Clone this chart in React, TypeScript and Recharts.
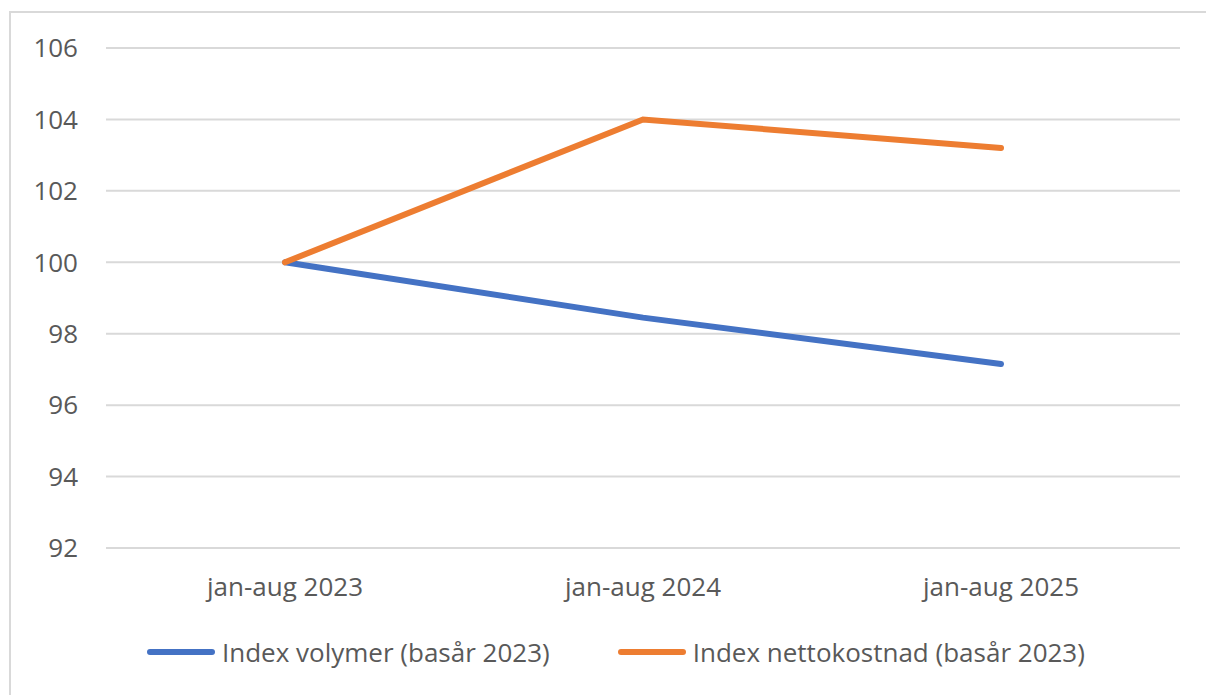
import { LineChart, Line, XAxis, YAxis, CartesianGrid, Legend } from "recharts";

// Index values, base year 2023 = 100
const periods = ["jan-aug 2023", "jan-aug 2024", "jan-aug 2025"];
const volymer = [100, 98.45, 97.15];
const nettokostnad = [100, 104, 103.2];
const yTicks = [92, 94, 96, 98, 100, 102, 104, 106];
const seriesOrder = ["volymer", "nettokostnad"];

const data = periods.map((p, i) => ({
  period: p,
  volymer: volymer[i],
  nettokostnad: nettokostnad[i],
}));

const FONT = "'Open Sans', 'Noto Sans', sans-serif";
const TEXT = "#595959";
const FS = 26;

const renderLegend = (props: any) => {
  const payload = [...(props.payload || [])].sort(
    (a: any, b: any) => seriesOrder.indexOf(a.dataKey) - seriesOrder.indexOf(b.dataKey)
  );
  return (
    <div style={{ display: "flex", gap: 68, fontFamily: FONT, fontSize: FS, color: TEXT }}>
      {payload.map((entry: any) => (
        <div key={entry.value} style={{ display: "flex", alignItems: "center" }}>
          <span
            style={{
              display: "inline-block",
              width: 68,
              height: 6,
              borderRadius: 3,
              background: entry.color,
              marginRight: 7,
            }}
          />
          <span>{entry.value}</span>
        </div>
      ))}
    </div>
  );
};

const App = () => {
  return (
    <div style={{ position: "absolute", left: 0, top: 0, width: 1206, height: 695, overflow: "hidden", background: "#fff" }}>
      <div
        style={{
          position: "absolute",
          left: 9,
          top: 11,
          width: 1220,
          height: 720,
          border: "2px solid #d9d9d9",
        }}
      />
      <div style={{ position: "absolute", left: 0, top: 0 }}>
        <LineChart width={1206} height={695} data={data} margin={{ top: 48, right: 26, bottom: 87, left: 0 }}>
          <CartesianGrid vertical={false} stroke="#d9d9d9" strokeWidth={2} />
          <XAxis
            dataKey="period"
            scale="band"
            axisLine={false}
            tickLine={false}
            tickSize={0}
            tickMargin={30}
            height={60}
            interval={0}
            tick={{ fill: TEXT, fontSize: FS, fontFamily: FONT }}
          />
          <YAxis
            domain={[92, 106]}
            ticks={yTicks}
            axisLine={false}
            tickLine={false}
            tickSize={0}
            tickMargin={28}
            width={106}
            tick={{ fill: TEXT, fontSize: FS, fontFamily: FONT }}
          />
          <Legend
            layout="horizontal"
            verticalAlign="middle"
            align="center"
            content={renderLegend}
            wrapperStyle={{ top: 634, left: 147, width: 1040 }}
          />
          <Line
            type="linear"
            dataKey="volymer"
            name="Index volymer (basår 2023)"
            stroke="#4472C4"
            strokeWidth={6}
            strokeLinecap="round"
            dot={false}
            activeDot={false}
            isAnimationActive={false}
          />
          <Line
            type="linear"
            dataKey="nettokostnad"
            name="Index nettokostnad (basår 2023)"
            stroke="#ED7D31"
            strokeWidth={6}
            strokeLinecap="round"
            dot={false}
            activeDot={false}
            isAnimationActive={false}
          />
        </LineChart>
      </div>
    </div>
  );
};

export default App;
